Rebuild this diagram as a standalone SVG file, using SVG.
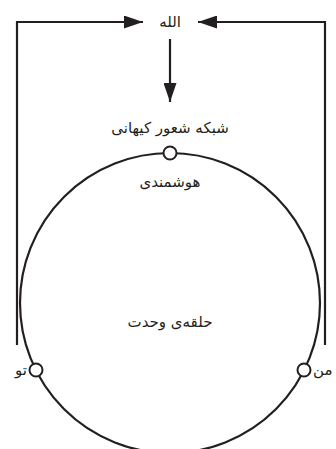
<svg xmlns="http://www.w3.org/2000/svg" width="336" height="449" viewBox="0 0 336 449">
<defs>
<style>
.ln{fill:none;stroke:#231f20;stroke-width:2.2}
.nd{fill:#fff;stroke:#231f20;stroke-width:2}
.t{font-family:"DejaVu Sans",sans-serif;font-size:15px;fill:#231f20;text-anchor:middle}
</style>
<marker id="ah" viewBox="0 0 19 13" refX="19" refY="6.5" markerWidth="19" markerHeight="13" markerUnits="userSpaceOnUse" orient="auto">
<path d="M0,0L19,6.5L0,13Z" fill="#231f20"/>
</marker>
</defs>
<rect width="336" height="449" fill="#fff"/>
<g id="connectors">
<path class="ln" d="M17,345V22H143" marker-end="url(#ah)"/>
<path class="ln" d="M325,345V22H198" marker-end="url(#ah)"/>
<path class="ln" d="M170,39V102" marker-end="url(#ah)"/>
</g>
<g id="ring">
<circle class="ln" cx="170" cy="303" r="150"/>
<text class="t" x="170" y="327">حلقه‌ی وحدت</text>
</g>
<g id="allah"><text class="t" x="170" y="27">الله</text></g>
<g id="cosmic"><text class="t" x="170" y="133">شبکه شعور کیهانی</text></g>
<g id="top-node"><circle class="nd" cx="170" cy="153" r="6.5"/><text class="t" x="170" y="187">هوشمندی</text></g>
<g id="you"><circle class="nd" cx="36" cy="370" r="6.5"/><text class="t" x="27" y="375" style="text-anchor:end">تو</text></g>
<g id="me"><circle class="nd" cx="304" cy="370" r="6.5"/><text class="t" x="313" y="375" style="text-anchor:start">من</text></g>
</svg>
